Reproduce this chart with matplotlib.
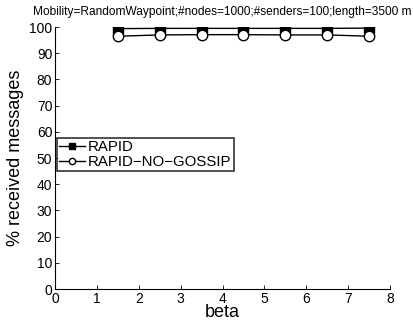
import matplotlib
matplotlib.use("Agg")
import matplotlib.pyplot as plt

plt.rcParams['font.family'] = ['Liberation Sans', 'DejaVu Sans']

# data
beta = [1.5, 2.5, 3.5, 4.5, 5.5, 6.5, 7.5]
rapid = [99.4, 99.5, 99.5, 99.5, 99.5, 99.5, 99.6]
rapid_no_gossip = [96.5, 97.0, 97.1, 97.1, 97.0, 97.0, 96.5]
xticks = [0, 1, 2, 3, 4, 5, 6, 7, 8]
yticks = [0, 10, 20, 30, 40, 50, 60, 70, 80, 90, 100]

fig = plt.figure(figsize=(4.14, 3.3), dpi=100)
ax = fig.add_axes([0.133, 0.124, 0.809, 0.794])

ax.plot(beta, rapid, color='black', marker='s', markersize=6.5,
        markerfacecolor='black', linewidth=1.0, label='RAPID')
ax.plot(beta, rapid_no_gossip, color='black', marker='o', markersize=7.5,
        markerfacecolor='white', linewidth=1.0, label='RAPID\u2212NO\u2212GOSSIP')

ax.set_xlim(0, 8)
ax.set_ylim(0, 100)
ax.set_xticks(xticks)
ax.set_yticks(yticks)
ax.tick_params(direction='in', length=3, labelsize=10, width=0.6, pad=2)
ax.spines['top'].set_visible(False)
ax.spines['right'].set_visible(False)
for s in ['left', 'bottom']:
    ax.spines[s].set_linewidth(0.8)

ax.set_xlabel('beta', fontsize=13, labelpad=-1)
ax.set_ylabel('% received messages', fontsize=13, labelpad=4)
ax.set_title('Mobility=RandomWaypoint;#nodes=1000;#senders=100;length=3500 m',
             fontsize=8.6, pad=9)

leg = ax.legend(loc='upper left', bbox_to_anchor=(0.006, 0.576), frameon=True,
                fancybox=False, edgecolor='black', fontsize=10.8,
                handlelength=1.7, handletextpad=0.2, borderpad=0.15,
                labelspacing=0.05, borderaxespad=0, markerscale=0.6)
leg.get_frame().set_linewidth(1.2)

fig.savefig('out.png', dpi=100)
